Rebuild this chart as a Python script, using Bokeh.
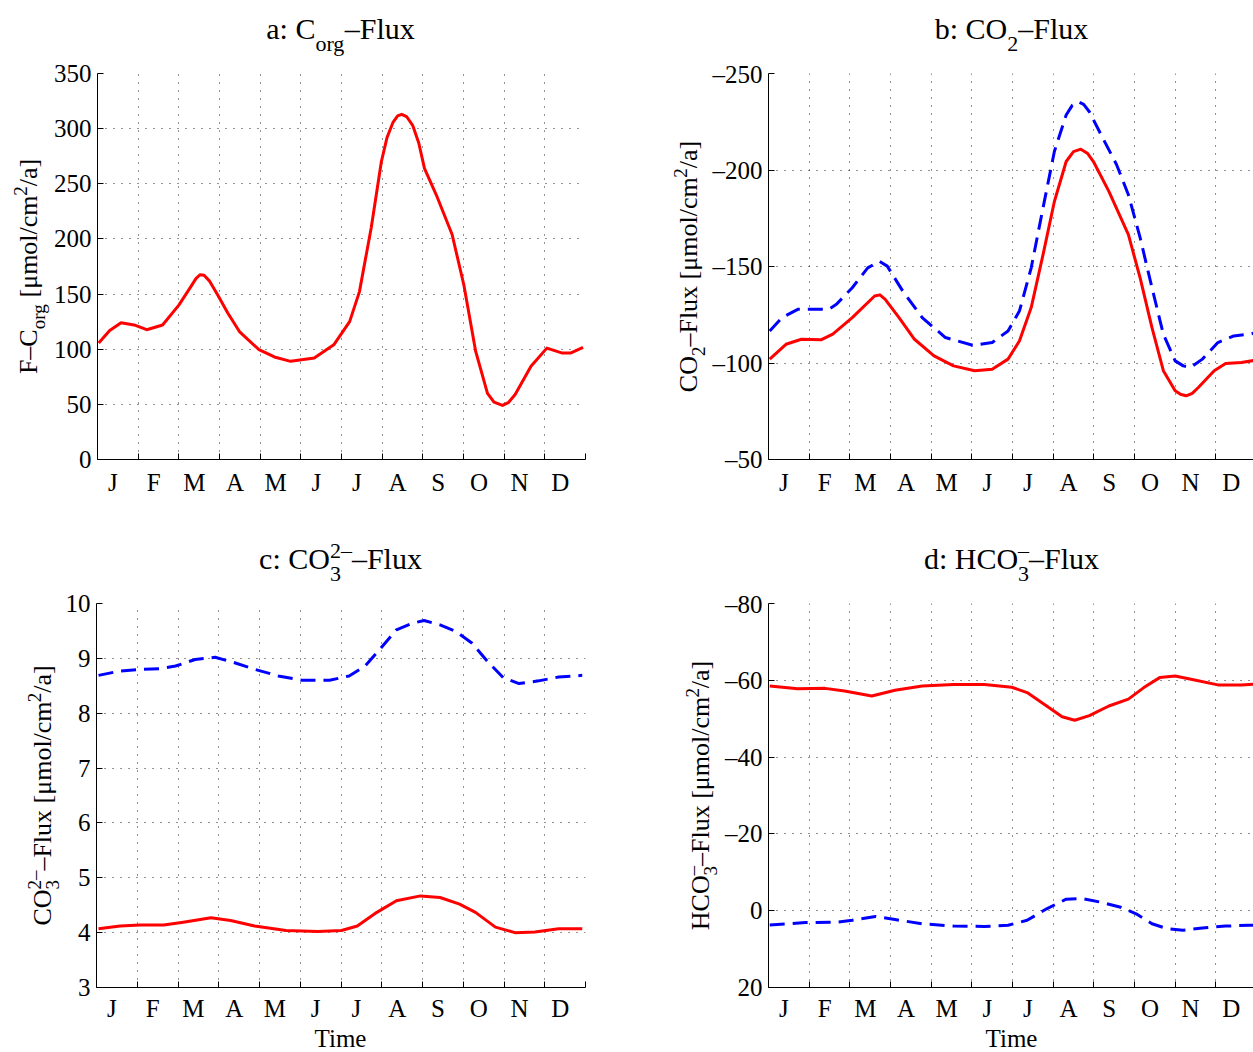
import math
from bokeh.plotting import figure
from bokeh.models import Range1d, FixedTicker, Label
from bokeh.layouts import column, row
from bokeh.embed import file_html
from bokeh.resources import INLINE

# ---------------- data (months: 0 = start of Jan, 12 = end of Dec) ----------------
month_labels = ["J", "F", "M", "A", "M", "J", "J", "A", "S", "O", "N", "D"]

a_m = [0.03, 0.3, 0.58, 0.9, 1.21, 1.6, 2.0, 2.3, 2.42, 2.52, 2.62, 2.75, 2.96, 3.2, 3.49,
       3.97, 4.35, 4.75, 5.33, 5.81, 6.2, 6.44, 6.73, 6.98, 7.12, 7.27, 7.38, 7.48, 7.6, 7.75,
       7.9, 8.04, 8.33, 8.72, 9.01, 9.3, 9.59, 9.75, 9.96, 10.1, 10.27, 10.66, 11.05, 11.43,
       11.63, 11.94]
a_red = [105.6, 117, 124, 122, 117.7, 122, 140, 157, 164, 167.5, 167, 162, 149, 133, 116,
         99.6, 93, 89, 92, 104, 125, 152, 210, 270, 292, 306, 311.5, 313, 311, 303,
         287, 264, 240, 204, 158, 98, 60, 52, 49, 51.5, 59, 84.5, 101, 96.5,
         96.5, 101.7]

b_m_red = [0.03, 0.43, 0.81, 1.29, 1.58, 2.06, 2.61, 2.74, 2.87, 3.21, 3.59, 4.07, 4.55, 5.07,
           5.5, 5.89, 6.17, 6.46, 6.75, 7.03, 7.32, 7.5, 7.68, 7.85, 7.99, 8.37, 8.85, 9.14,
           9.43, 9.71, 10.0, 10.13, 10.27, 10.42, 10.57, 10.96, 11.24, 11.63, 12.0]
b_red = [-102, -109.7, -112.3, -112, -115, -123.5, -134.7, -135.3, -133, -123.5, -112.3,
         -103.7, -98.5, -96, -96.8, -102, -111.4, -128.7, -156, -183.7, -204.4, -209.5,
         -210.8, -208.5, -204.4, -188.9, -166.5, -144, -118.3, -96, -85.6, -83.8, -83,
         -84.3, -87.3, -96, -99.7, -100.3, -101.5]
b_m_blue = [0.03, 0.33, 0.72, 1.1, 1.48, 1.67, 2.06, 2.44, 2.73, 2.92, 3.3, 3.78, 4.35, 5.02,
            5.5, 5.89, 6.17, 6.46, 6.75, 7.03, 7.32, 7.47, 7.61, 7.75, 7.89, 8.18, 8.56, 8.85,
            9.14, 9.43, 9.71, 10.0, 10.2, 10.38, 10.67, 11.05, 11.44, 11.82, 12.0]
b_blue = [-116.6, -123.5, -127.8, -127.8, -127.8, -130.4, -139, -149.3, -152.7, -150.2, -137.3,
          -123.5, -113.2, -109.2, -110.6, -116.6, -126.9, -149.3, -180.3, -209.6, -228.5,
          -233.5, -235.4, -234, -230.2, -218.2, -202.7, -187.2, -164.8, -139, -114.9, -101.1,
          -98.5, -97.7, -102, -110.6, -114, -114.9, -115.8]

c_m_blue = [0.05, 0.58, 1.07, 1.55, 1.94, 2.42, 2.91, 3.39, 3.88, 4.46, 5.04, 5.72, 6.2, 6.59,
            6.98, 7.36, 7.75, 8.04, 8.43, 8.82, 9.21, 9.59, 9.98, 10.37, 10.85, 11.34, 11.92]
c_blue = [8.69, 8.77, 8.80, 8.81, 8.86, 8.98, 9.02, 8.92, 8.80, 8.68, 8.60, 8.60, 8.68, 8.86,
          9.19, 9.52, 9.64, 9.69, 9.61, 9.49, 9.28, 8.95, 8.65, 8.54, 8.59, 8.66, 8.69]
c_m_red = [0.05, 0.58, 1.07, 1.65, 2.13, 2.81, 3.29, 3.88, 4.65, 5.43, 6.01, 6.4, 6.88, 7.36,
           7.95, 8.43, 8.91, 9.3, 9.79, 10.27, 10.76, 11.34, 11.92]
c_red = [4.07, 4.12, 4.14, 4.14, 4.19, 4.27, 4.22, 4.12, 4.04, 4.02, 4.04, 4.12, 4.37, 4.58,
         4.67, 4.64, 4.52, 4.37, 4.10, 4.00, 4.01, 4.07, 4.07]

d_m_red = [0.03, 0.72, 1.39, 1.87, 2.54, 3.11, 3.78, 4.55, 5.31, 5.98, 6.36, 6.84, 7.22, 7.53,
           7.89, 8.37, 8.85, 9.23, 9.62, 10.0, 10.48, 11.05, 11.63, 12.0]
d_red = [-58.5, -57.8, -57.9, -57.2, -55.9, -57.4, -58.5, -58.9, -58.9, -58.2, -56.8, -53.3,
         -50.5, -49.6, -50.8, -53.3, -55.1, -58.1, -60.7, -61.1, -60.1, -58.8, -58.8, -59.0]
d_m_blue = [0.03, 0.91, 1.67, 2.06, 2.63, 3.11, 3.78, 4.55, 5.31, 5.89, 6.36, 6.84, 7.32, 7.7,
            8.18, 8.66, 9.04, 9.43, 9.81, 10.19, 10.67, 11.24, 11.82, 12.0]
d_blue = [3.7, 3.1, 3.0, 2.5, 1.5, 2.3, 3.4, 4.0, 4.1, 3.8, 2.5, -0.5, -3.0, -3.2, -2.2, -0.9,
          0.8, 3.4, 4.7, 5.1, 4.5, 4.0, 3.8, 3.8]

a_yticks = [0, 50, 100, 150, 200, 250, 300, 350]
b_yticks = [-250, -200, -150, -100, -50]
c_yticks = [3, 4, 5, 6, 7, 8, 9, 10]
d_yticks = [-80, -60, -40, -20, 0, 20]

# ---------------- styling helpers ----------------
FONT = "Liberation Serif"
RED = "#ff0000"
BLUE = "#0000ff"
K = 0.35  # label anchor sits this many em above the text baseline

WID = {' ': 250, ':': 278, '[': 333, ']': 333, '/': 278, '–': 500, 'μ': 520,
       'C': 667, 'F': 556, 'H': 722, 'O': 722, 'T': 611,
       'a': 444, 'b': 500, 'c': 444, 'd': 500, 'e': 444, 'g': 500, 'i': 278, 'l': 278,
       'm': 778, 'n': 500, 'o': 500, 'r': 333, 'u': 500, 'x': 500}


def tw(s, fs):
    return sum(WID.get(ch, 500) for ch in s) * fs / 1000.0


def rich(p, pieces, cx, cy, vertical, fs, fs_s, sub_off, sup_off):
    """Text with sub/superscripts centred on cx (or cy if vertical); baseline at cy (or cx)."""
    def pw(pc):
        t, k = pc
        if k == 'n':
            return tw(t, fs)
        if k in ('sub', 'sup'):
            return tw(t, fs_s)
        return max(tw(t[0], fs_s), tw(t[1], fs_s))

    total = sum(pw(pc) for pc in pieces)
    pos = -total / 2.0
    for pc in pieces:
        t, k = pc
        items = []
        if k == 'n':
            items.append((t, 0, fs))
        elif k == 'sub':
            items.append((t, -sub_off, fs_s))
        elif k == 'sup':
            items.append((t, sup_off, fs_s))
        else:
            items.append((t[0], -sub_off, fs_s))
            items.append((t[1], sup_off, fs_s))
        for txt, off, size in items:
            lead = len(txt) - len(txt.lstrip(' '))
            shift = tw(' ' * lead, size)
            txt = txt.lstrip(' ')
            if vertical:
                x, y, ang = cx - off - K * size, cy + pos + shift, math.pi / 2
            else:
                x, y, ang = cx + pos + shift, cy + off + K * size, 0
            p.add_layout(Label(x=x, y=y, text=txt, angle=ang, text_font=FONT,
                               text_font_size=f"{size}px", text_color="black",
                               text_align="left", text_baseline="alphabetic"))
        pos += pw(pc)


def textfig(w, h, fh=None):
    fh = h if fh is None else fh
    f = figure(width=w, height=h, x_range=Range1d(0, w), y_range=Range1d(0, fh),
               x_axis_type=None, y_axis_type=None, output_backend="svg",
               toolbar_location=None, min_border=0, title=None)
    f.outline_line_color = None
    f.background_fill_color = "white"
    f.border_fill_color = "white"
    f.grid.visible = False
    return f


def panel(width, height, bl, br, bt, bb, xend, yr, yticks, series, xstand=9):
    p = figure(width=width, height=height, output_backend="svg", toolbar_location=None,
               x_range=Range1d(0, xend), y_range=yr,
               min_border_left=bl, min_border_right=br, min_border_top=bt,
               min_border_bottom=bb)
    p.outline_line_color = None
    p.background_fill_color = "white"
    p.border_fill_color = "white"

    xa = p.xaxis[0]
    xa.ticker = FixedTicker(ticks=[i + 0.38 for i in range(12)],
                            minor_ticks=list(range(13)))
    xa.major_label_overrides = {i + 0.38: month_labels[i] for i in range(12)}
    xa.major_tick_in = 0
    xa.major_tick_out = 0
    xa.minor_tick_in = 6
    xa.minor_tick_out = 0
    xa.minor_tick_line_color = "black"
    xa.major_label_standoff = xstand

    ya = p.yaxis[0]
    ya.ticker = FixedTicker(ticks=yticks)
    ya.major_label_overrides = {v: str(v).replace("-", "–") for v in yticks}
    ya.major_tick_in = 6
    ya.major_tick_out = 0
    ya.minor_tick_line_color = None
    ya.major_label_standoff = 6

    for ax in (xa, ya):
        ax.axis_line_color = "black"
        ax.axis_line_width = 1
        ax.major_tick_line_color = "black"
        ax.major_label_text_font = FONT
        ax.major_label_text_font_size = "25px"
        ax.major_label_text_color = "black"

    p.xgrid.ticker = FixedTicker(ticks=list(range(13)))
    p.ygrid.ticker = FixedTicker(ticks=yticks)
    for g in (p.xgrid, p.ygrid):
        g.grid_line_color = "black"
        g.grid_line_dash = "1 7"
        g.grid_line_alpha = 0.85
        g.grid_line_width = 1

    for xs, ys, col, dash in series:
        p.line(xs, ys, line_color=col, line_width=3, line_dash=dash, line_join="round",
               line_cap="butt")
    return p


TITLE_FS, TITLE_SUB = 30, 22
LAB_FS, LAB_SUB = 26, 19

# ---- row 1 titles (baseline 38 px below page top) ----
strip1 = textfig(1253, 60)
rich(strip1, [("a: C", 'n'), ("org", 'sub'), ("–Flux", 'n')], 340, 22, False,
     TITLE_FS, TITLE_SUB, 13, 10)
rich(strip1, [("b: CO", 'n'), ("2", 'sub'), ("–Flux", 'n')], 1011, 22, False,
     TITLE_FS, TITLE_SUB, 13, 10)

# ---- row 1 panels (frames aligned: 73..459) ----
ylab_a = textfig(50, 444, 386)
rich(ylab_a, [("F–C", 'n'), ("org", 'sub'), (" [μmol/cm", 'n'), ("2", 'sup'), ("/a]", 'n')],
     37, 193, True, LAB_FS, LAB_SUB, 8, 10)
pa = panel(545, 444, 45, 10, 13, 45, 12, Range1d(0, 350), a_yticks,
           [(a_m, a_red, RED, "solid")])

ylab_b = textfig(114, 444, 386)
rich(ylab_b, [("CO", 'n'), ("2", 'sub'), ("–Flux [μmol/cm", 'n'), ("2", 'sup'), ("/a]", 'n')],
     102, 193, True, LAB_FS, LAB_SUB, 8, 10)
pb = panel(544, 444, 57, 0, 13, 45, 12 * 487 / 490, Range1d(-50, -250), b_yticks,
           [(b_m_blue, b_blue, BLUE, "15 8"), (b_m_red, b_red, RED, "solid")])

# ---- row 2 titles (baseline at page y 568) ----
strip2 = textfig(1253, 86)
rich(strip2, [("c: CO", 'n'), (("3", "2–"), 'subsup'), ("–Flux", 'n')], 340, 22, False,
     TITLE_FS, TITLE_SUB, 13, 10)
rich(strip2, [("d: HCO", 'n'), (("3", "–"), 'subsup'), ("–Flux", 'n')], 1011, 22, False,
     TITLE_FS, TITLE_SUB, 13, 10)

# ---- row 2 panels (frames aligned: 603..988) ----
ylab_c = textfig(62, 434, 385)
rich(ylab_c, [("CO", 'n'), (("3", "2–"), 'subsup'), ("–Flux [μmol/cm", 'n'), ("2", 'sup'),
              ("/a]", 'n')], 51, 192.5, True, LAB_FS, LAB_SUB, 8, 10)
pc = panel(533, 434, 33, 10, 13, 36, 12, Range1d(3, 10), c_yticks,
           [(c_m_blue, c_blue, BLUE, "15 8"), (c_m_red, c_red, RED, "solid")], xstand=7)

ylab_d = textfig(126, 434, 385)
rich(ylab_d, [("HCO", 'n'), (("3", "–"), 'subsup'), ("–Flux [μmol/cm", 'n'), ("2", 'sup'),
              ("/a]", 'n')], 114, 192.5, True, LAB_FS, LAB_SUB, 8, 10)
pd_ = panel(532, 434, 45, 0, 13, 36, 12 * 487 / 490, Range1d(20, -80), d_yticks,
            [(d_m_blue, d_blue, BLUE, "15 8"), (d_m_red, d_red, RED, "solid")], xstand=7)

# ---- x labels ----
strip3 = textfig(1253, 28)
for cx in (340, 1011):
    strip3.add_layout(Label(x=cx, y=5.5 + K * 25, text="Time", text_font=FONT,
                            text_font_size="25px", text_color="black", text_align="center",
                            text_baseline="alphabetic"))

layout = column(strip1,
                row(ylab_a, pa, ylab_b, pb, spacing=0),
                strip2,
                row(ylab_c, pc, ylab_d, pd_, spacing=0),
                strip3, spacing=0)

open("out.html", "w").write(file_html(layout, INLINE))
